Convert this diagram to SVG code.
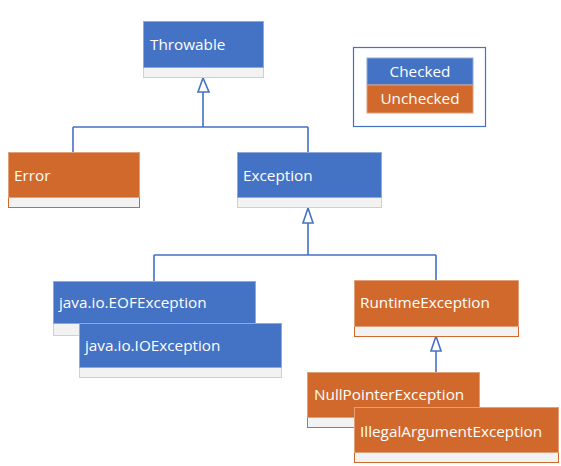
<svg xmlns="http://www.w3.org/2000/svg" width="561" height="466" viewBox="0 0 561 466">
<defs>
<style>
.b{fill:#4472C4;stroke:#8EA9DB;stroke-width:1}
.o{fill:#D0692B;stroke:#E0A07A;stroke-width:1}
.g{fill:#F2F2F2;stroke:#D0D0D0;stroke-width:1}
.go{fill:#F2F2F2;stroke:#D0692B;stroke-width:1}
.t{font-family:"Open Sans","Noto Sans",sans-serif;font-size:15.3px;fill:#FFFFFF}
.c{fill:none;stroke:#4472C4;stroke-width:1.6}
.ah{fill:#FFFFFF;stroke:#4472C4;stroke-width:1.6}
</style>
</defs>
<rect width="561" height="466" fill="#FFFFFF"/>
<g id="connectors">
<path class="c" d="M203 92V127M73 127H308M73 127V152M308 127V152"/>
<path class="ah" d="M203 78L198 92H209Z"/>
<path class="c" d="M308 223V255M154 255H436M154 255V281M436 255V280"/>
<path class="ah" d="M308 208L303 223H313Z"/>
<path class="c" d="M436 351V372"/>
<path class="ah" d="M436 336L431 351H441Z"/>
</g>
<g id="legend">
<rect x="353.5" y="47.5" width="132" height="79" fill="none" stroke="#4472C4" stroke-width="1.2"/>
<rect class="b" x="367" y="58" width="106" height="27"/>
<text class="t" x="420" y="77" text-anchor="middle">Checked</text>
<rect class="o" x="367" y="85" width="106" height="28"/>
<text class="t" x="420" y="104" text-anchor="middle">Unchecked</text>
</g>
<g id="throwable">
<rect class="g" x="143.5" y="67.5" width="120" height="10"/>
<rect class="b" x="143.5" y="21.5" width="120" height="46"/>
<text class="t" x="150" y="50">Throwable</text>
</g>
<g id="error">
<rect class="go" x="8.5" y="197.5" width="131" height="10"/>
<rect class="o" x="8.5" y="152.5" width="131" height="45"/>
<text class="t" x="14" y="181">Error</text>
</g>
<g id="exception">
<rect class="g" x="237.5" y="197.5" width="144" height="10"/>
<rect class="b" x="237.5" y="152.5" width="144" height="45"/>
<text class="t" x="243" y="181">Exception</text>
</g>
<g id="eofexception">
<rect class="g" x="53.5" y="323.5" width="202" height="12"/>
<rect class="b" x="53.5" y="281.5" width="202" height="42"/>
<text class="t" x="59" y="308">java.io.EOFException</text>
</g>
<g id="ioexception">
<rect class="g" x="79.5" y="367.5" width="202" height="10"/>
<rect class="b" x="79.5" y="323.5" width="202" height="44"/>
<text class="t" x="85" y="351">java.io.IOException</text>
</g>
<g id="runtimeexception">
<rect class="go" x="354.5" y="326.5" width="164" height="10"/>
<rect class="o" x="354.5" y="280.5" width="164" height="46"/>
<text class="t" x="360" y="308">RuntimeException</text>
</g>
<g id="nullpointerexception">
<rect class="go" x="307.5" y="417.5" width="172" height="10"/>
<rect class="o" x="307.5" y="372.5" width="172" height="45"/>
<text class="t" x="314" y="400">NullPointerException</text>
</g>
<g id="illegalargumentexception">
<rect class="go" x="354.5" y="452.5" width="204" height="10"/>
<rect class="o" x="354.5" y="407.5" width="204" height="45"/>
<text class="t" x="360" y="437">IllegalArgumentException</text>
</g>
</svg>
